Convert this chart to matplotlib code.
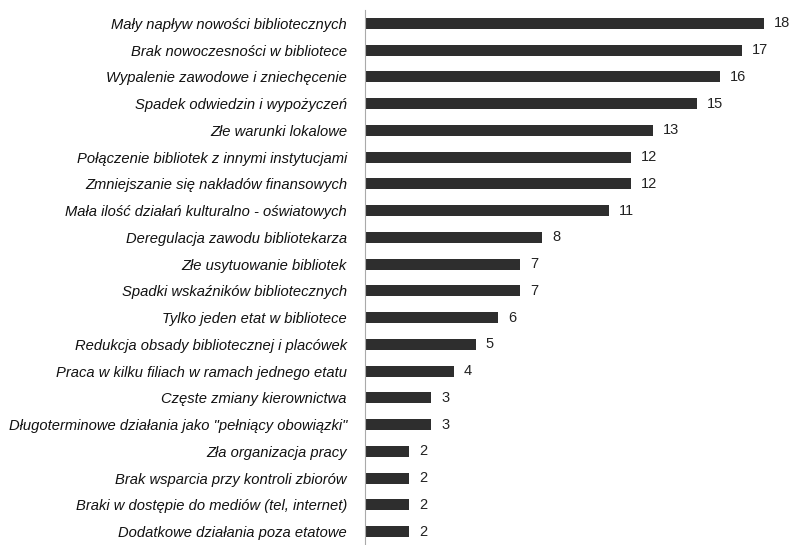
import matplotlib.pyplot as plt

labels = [
    "Mały napływ nowości bibliotecznych",
    "Brak nowoczesności w bibliotece",
    "Wypalenie zawodowe i zniechęcenie",
    "Spadek odwiedzin i wypożyczeń",
    "Złe warunki lokalowe",
    "Połączenie bibliotek z innymi instytucjami",
    "Zmniejszanie się nakładów finansowych",
    "Mała ilość działań kulturalno - oświatowych",
    "Deregulacja zawodu bibliotekarza",
    "Złe usytuowanie bibliotek",
    "Spadki wskaźników bibliotecznych",
    "Tylko jeden etat w bibliotece",
    "Redukcja obsady bibliotecznej i placówek",
    "Praca w kilku filiach w ramach jednego etatu",
    "Częste zmiany kierownictwa",
    "Długoterminowe działania jako \"pełniący obowiązki\"",
    "Zła organizacja pracy",
    "Brak wsparcia przy kontroli zbiorów",
    "Braki w dostępie do mediów (tel, internet)",
    "Dodatkowe działania poza etatowe",
]
values = [18, 17, 16, 15, 13, 12, 12, 11, 8, 7, 7, 6, 5, 4, 3, 3, 2, 2, 2, 2]

fig = plt.figure(figsize=(7.93, 5.45), dpi=100)
ax = fig.add_axes([365 / 793, 0, 421 / 793, 535 / 545])

pos = list(range(len(values)))[::-1]
ax.barh(pos, values, height=0.42, color="#2e2e2e")

ax.set_xlim(0, 19)
ax.set_ylim(-0.5, len(values) - 0.5)
ax.set_yticks(pos)
ax.set_yticklabels(labels, fontsize=10.6, style="italic", family="Liberation Sans", color="#111111")
ax.set_xticks([])
ax.tick_params(axis="y", length=0, pad=13)

for p, v in zip(pos, values):
    ax.text(v + 0.45, p, str(v), va="center", ha="left", fontsize=10.5,
            family="Liberation Sans", color="#222222")

for s in ["top", "right", "bottom"]:
    ax.spines[s].set_visible(False)
ax.spines["left"].set_color("#aaaaaa")

fig.savefig("out.png", dpi=100)
